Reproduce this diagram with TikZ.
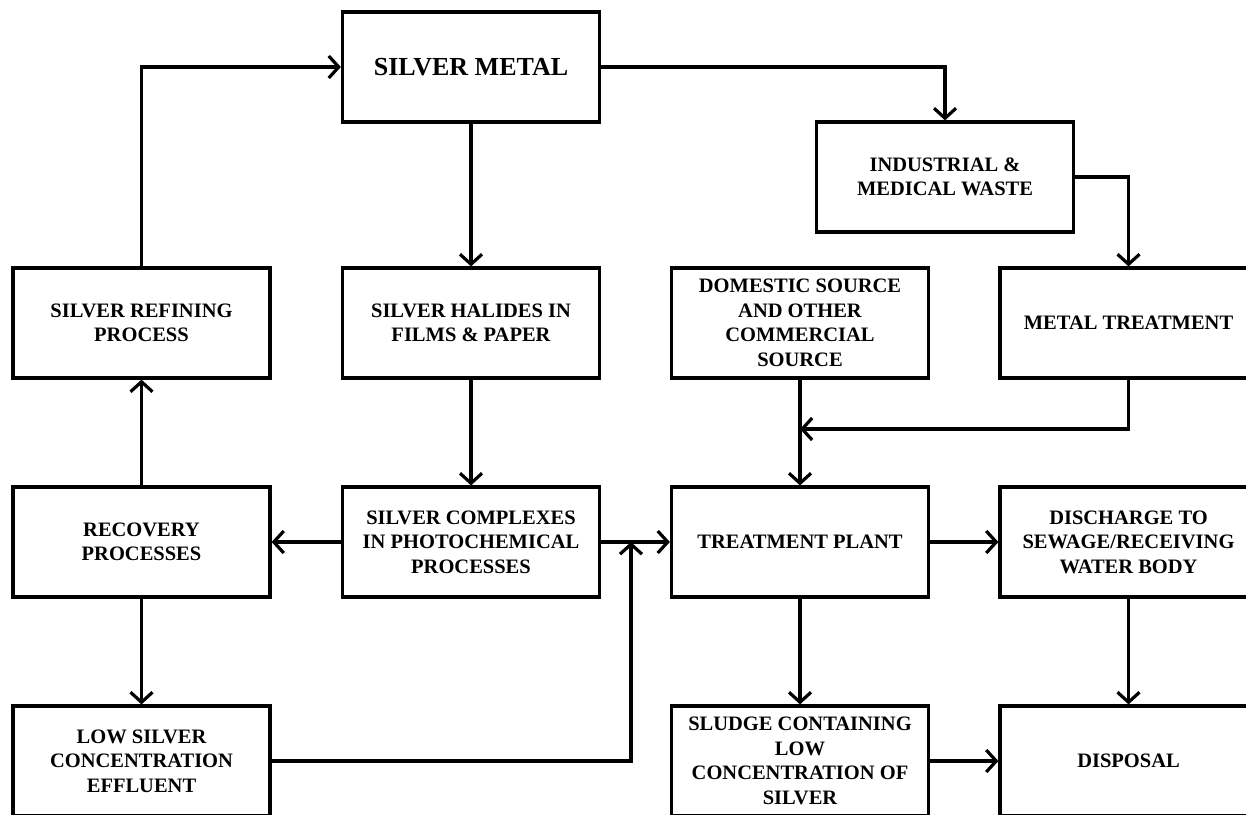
\documentclass[tikz,border=0pt]{standalone}
\usepackage{fontspec}
\setmainfont{Liberation Serif}
\usepackage{tikz}
\usetikzlibrary{arrows.meta}

\begin{document}
\begin{tikzpicture}[x=1pt,y=-1pt,line width=3.2pt,>={Straight Barb[length=10pt,width=22pt]},
    box/.style={draw,minimum width=257pt,minimum height=110pt,align=center,
      font=\bfseries\fontsize{20.5}{24.5}\selectfont}]
    \useasboundingbox (0,0) rectangle (1246,814);
    \clip (0,0) rectangle (1246,814);
    \node[box,font=\bfseries\fontsize{26}{30}\selectfont] (metal) at (471,67) {SILVER METAL};
    \node[box] (waste) at (945,177) {INDUSTRIAL \&\\MEDICAL WASTE};
    \node[box] (refining) at (141.5,323) {SILVER REFINING\\PROCESS};
    \node[box] (halides) at (471,323) {SILVER HALIDES IN\\FILMS \& PAPER};
    \node[box] (domestic) at (800,323) {DOMESTIC SOURCE\\AND OTHER\\COMMERCIAL\\SOURCE};
    \node[box] (mtreat) at (1128.5,323) {METAL TREATMENT};
    \node[box] (recovery) at (141.5,542) {RECOVERY\\PROCESSES};
    \node[box] (complexes) at (471,542) {SILVER COMPLEXES\\IN PHOTOCHEMICAL\\PROCESSES};
    \node[box] (plant) at (800,542) {TREATMENT PLANT};
    \node[box] (discharge) at (1128.5,542) {DISCHARGE TO\\SEWAGE/RECEIVING\\WATER BODY};
    \node[box] (lowag) at (141.5,761) {LOW SILVER\\CONCENTRATION\\EFFLUENT};
    \node[box] (sludge) at (800,761) {SLUDGE CONTAINING\\LOW\\CONCENTRATION OF\\SILVER};
    \node[box] (disposal) at (1128.5,761) {DISPOSAL};
    \coordinate (join) at (631,542);
    \coordinate (merge) at (800,429);
    % silver cycle
	\draw [->] (refining) |- (metal);
	\draw [->] (metal) -- (halides);
	\draw [->] (halides) -- (complexes);
	\draw [->] (complexes) -- (recovery);
	\draw [->] (recovery) -- (refining);
	\draw [->] (recovery) -- (lowag);
	\draw [->] (lowag) -| (join);
	\draw [->] (complexes) -- (plant);
    % waste side
	\draw [->] (metal) -| (waste);
	\draw [->] (waste) -| (mtreat);
	\draw [->] (mtreat) |- (merge);
	\draw [->] (domestic) -- (plant);
	\draw [->] (plant) -- (discharge);
	\draw [->] (plant) -- (sludge);
	\draw [->] (discharge) -- (disposal);
	\draw [->] (sludge) -- (disposal);
\end{tikzpicture}
\end{document}
